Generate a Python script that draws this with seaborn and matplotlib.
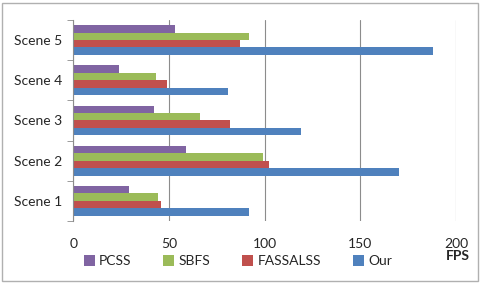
import pandas as pd
import numpy as np
import seaborn as sns
import matplotlib.pyplot as plt
from matplotlib.patches import Rectangle

scenes = ['Scene 5', 'Scene 4', 'Scene 3', 'Scene 2', 'Scene 1']
methods = ['PCSS', 'SBFS', 'FASSALSS', 'Our']
pcss = [53, 24, 42, 59, 29]
sbfs = [92, 43, 66, 99, 44]
fassalss = [87, 49, 82, 102, 46]
our = [188, 81, 119, 170, 92]
colors = ['#8064A2', '#9BBB59', '#C0504D', '#4F81BD']

df = pd.DataFrame({
    'scene': scenes * 4,
    'method': np.repeat(methods, len(scenes)),
    'fps': pcss + sbfs + fassalss + our,
})

sns.set_style('white')
plt.rcParams['font.family'] = ['Lato', 'DejaVu Sans']

fig = plt.figure(figsize=(4.8, 2.84), dpi=100)
ax = fig.add_axes([0.153, 0.222, 0.797, 0.708])

sns.barplot(data=df, y='scene', x='fps', hue='method', order=scenes,
            hue_order=methods, palette=colors, orient='h', width=0.74,
            saturation=1, linewidth=0, ax=ax)

ax.set_xlim(0, 200)
ax.set_xticks([0, 50, 100, 150, 200])
ax.grid(axis='x', color='#8c8c8c', linewidth=0.8)
ax.set_axisbelow(True)
for s in ['top', 'right', 'bottom']:
    ax.spines[s].set_visible(False)
ax.spines['left'].set_color('#8c8c8c')
ax.set_yticks(np.arange(-0.5, 5, 1), minor=True)
ax.tick_params(axis='y', which='minor', length=4, color='#8c8c8c', left=True)
ax.tick_params(axis='y', which='major', length=0, labelsize=10, pad=8)
ax.tick_params(axis='x', length=0, labelsize=10, pad=12)
ax.set_xlabel('')
ax.set_ylabel('')
ax.text(1.005, -0.175, 'FPS', transform=ax.transAxes, ha='center', va='center',
        fontsize=10, fontweight='bold')

handles, labels = ax.get_legend_handles_labels()
ax.legend(handles, labels, loc='center', bbox_to_anchor=(0.43, -0.2), ncol=4,
          frameon=False, fontsize=10, handlelength=0.8, handleheight=0.8,
          handletextpad=0.3, columnspacing=2.3, borderpad=0)

fig.patches.append(Rectangle((0.005, 0.01), 0.99, 0.98, transform=fig.transFigure,
                             fill=False, edgecolor='#b0b0b0', linewidth=1))

fig.savefig('out.png', dpi=100)
